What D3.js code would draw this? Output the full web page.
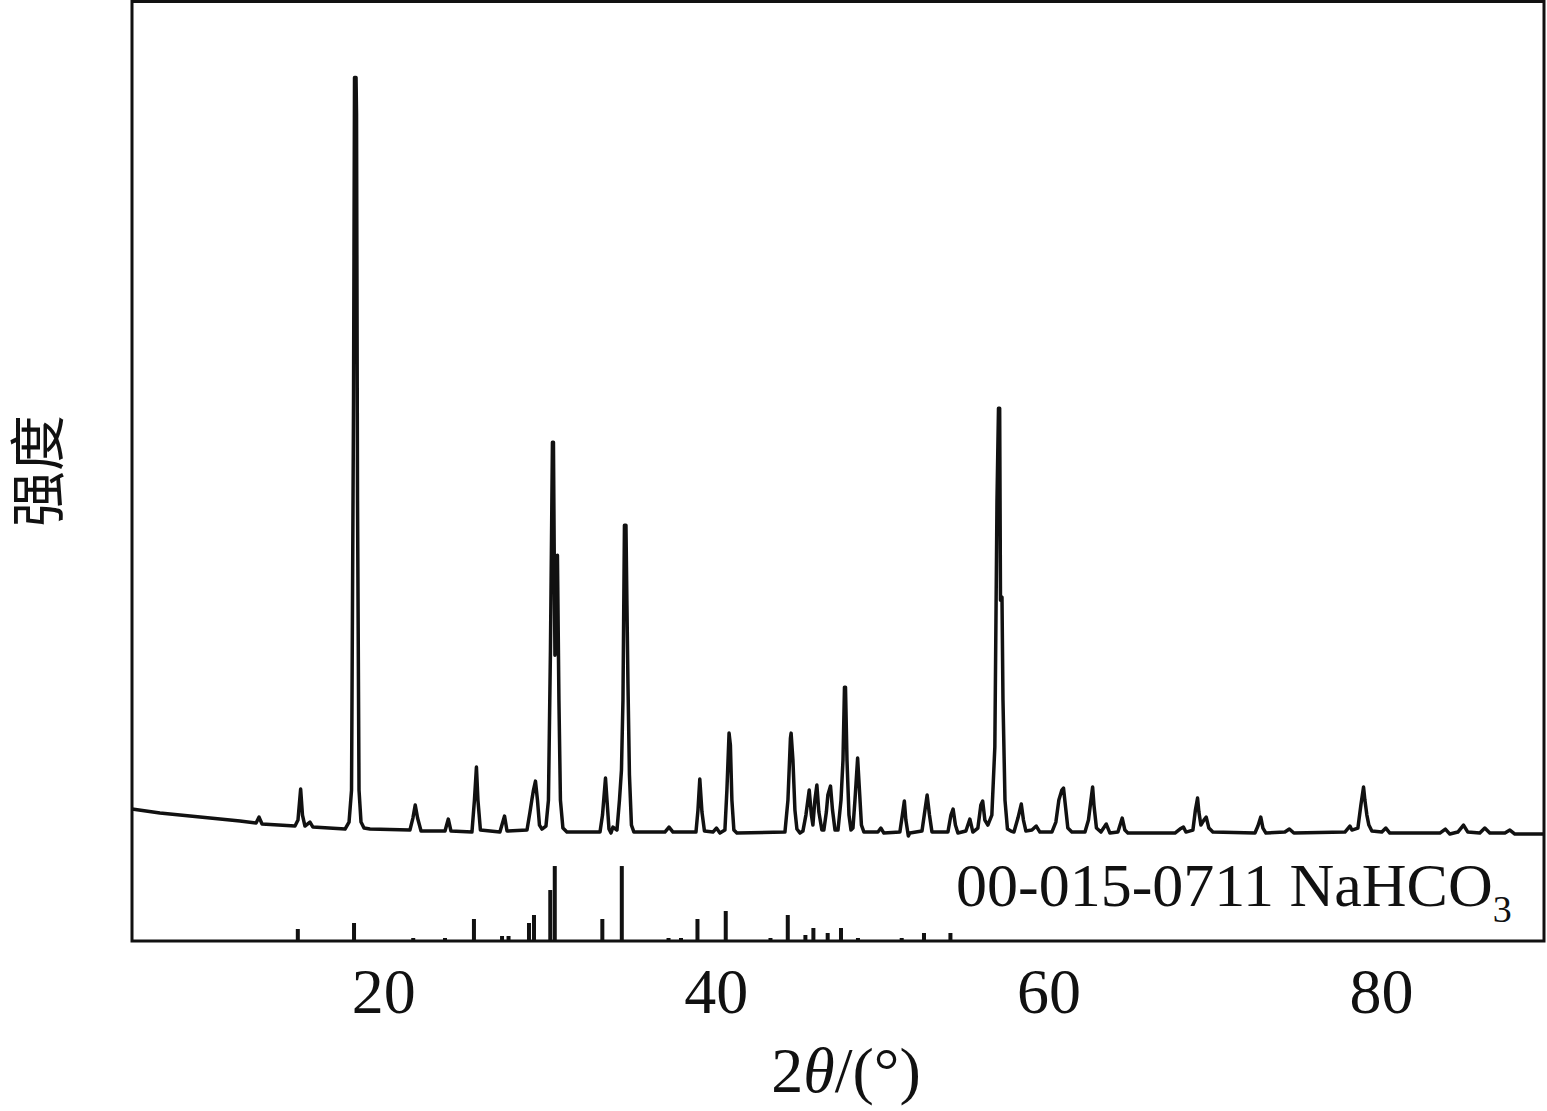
<!DOCTYPE html>
<html>
<head>
<meta charset="utf-8">
<script src="https://cdn.jsdelivr.net/npm/d3@7"></script>
<style>
  body { margin: 0; background: #fff; }
  svg { display: block; }
</style>
</head>
<body>
<div id="chartContainer"></div>
<script>
// measured XRD pattern, [2theta (deg), intensity (a.u.)]
var xrdPattern = [
    [4.90, 132], [6.58, 128], [8.99, 124], [11.39, 120], [12.36, 118], [12.54, 124], [12.72, 117],
    [14.70, 115], [14.88, 121], [15.04, 152], [15.15, 126], [15.30, 115], [15.60, 119], [15.78, 114],
    [17.71, 112], [17.95, 119], [18.10, 151], [18.22, 541], [18.28, 864], [18.37, 864], [18.40, 828],
    [18.46, 441], [18.55, 151], [18.67, 119], [18.85, 113], [19.21, 112],
    [21.61, 111], [21.79, 123], [21.93, 136], [22.07, 123], [22.28, 110],
    [23.72, 110], [23.92, 122], [24.08, 110],
    [25.34, 109], [25.49, 141], [25.61, 174], [25.70, 141], [25.85, 111],
    [27.02, 109], [27.30, 125], [27.45, 110],
    [28.65, 111], [28.83, 129], [28.95, 142], [29.04, 151], [29.16, 160], [29.28, 141], [29.40, 116],
    [29.55, 112], [29.79, 115], [29.94, 141], [30.06, 291], [30.18, 499], [30.24, 499], [30.33, 286],
    [30.42, 341], [30.48, 386], [30.57, 241], [30.66, 141], [30.81, 113], [31.05, 109],
    [33.04, 109], [33.19, 126], [33.37, 163], [33.46, 141], [33.58, 112], [33.70, 108], [33.82, 114],
    [34.06, 111], [34.21, 141], [34.33, 171], [34.42, 241], [34.51, 416], [34.60, 416], [34.66, 336],
    [34.72, 258], [34.81, 166], [34.93, 116], [35.08, 109],
    [36.94, 109], [37.19, 114], [37.43, 109],
    [38.81, 109], [38.93, 131], [39.04, 162], [39.17, 129], [39.32, 110],
    [39.83, 109], [40.04, 113], [40.25, 108], [40.55, 111], [40.67, 151], [40.80, 208], [40.88, 196],
    [40.97, 141], [41.09, 111], [41.27, 108],
    [44.16, 109], [44.34, 141], [44.49, 203], [44.53, 208], [44.64, 181], [44.76, 131], [44.88, 112],
    [45.06, 108], [45.24, 110], [45.42, 126], [45.62, 151], [45.75, 126], [45.84, 116], [45.96, 141],
    [46.08, 156], [46.20, 129], [46.38, 111], [46.50, 111], [46.65, 129], [46.74, 146], [46.90, 155],
    [47.02, 131], [47.17, 111], [47.35, 111], [47.53, 141], [47.65, 181], [47.74, 254], [47.80, 254],
    [47.89, 181], [48.01, 126], [48.13, 111], [48.25, 113], [48.37, 141], [48.53, 183], [48.64, 151],
    [48.76, 116], [48.91, 109],
    [49.75, 109], [49.93, 113], [50.11, 108],
    [51.07, 109], [51.22, 126], [51.34, 140], [51.43, 121], [51.58, 105], [51.67, 108],
    [52.40, 110], [52.58, 131], [52.71, 146], [52.85, 126], [53.00, 109],
    [53.96, 109], [54.14, 126], [54.27, 132], [54.41, 116], [54.56, 108],
    [55.04, 110], [55.28, 122], [55.46, 109], [55.76, 113], [55.94, 136], [56.05, 140], [56.18, 121],
    [56.36, 116], [56.60, 126], [56.78, 194], [56.91, 441], [57.00, 533], [57.07, 533], [57.12, 341],
    [57.21, 344], [57.27, 241], [57.39, 141], [57.54, 112], [57.75, 110], [57.93, 109],
    [58.17, 123], [58.37, 137], [58.50, 121], [58.65, 110], [59.01, 111], [59.27, 115], [59.49, 109],
    [60.21, 109], [60.45, 119], [60.63, 141], [60.81, 151], [60.91, 153], [61.02, 136], [61.17, 113],
    [61.41, 109],
    [62.20, 109], [62.41, 121], [62.56, 141], [62.66, 154], [62.74, 136], [62.89, 113], [63.16, 109],
    [63.48, 117], [63.70, 108], [64.18, 109], [64.44, 123], [64.60, 111], [64.78, 108],
    [67.61, 108], [67.91, 112], [68.12, 114], [68.27, 109],
    [68.69, 111], [68.84, 131], [68.97, 143], [69.05, 129], [69.17, 116], [69.35, 121], [69.49, 124],
    [69.65, 113], [69.89, 109],
    [72.42, 108], [72.60, 115], [72.77, 124], [72.90, 113], [73.08, 108],
    [74.22, 109], [74.49, 112], [74.76, 108],
    [77.83, 109], [78.13, 115], [78.25, 111], [78.61, 113], [78.79, 136], [78.95, 154], [79.03, 141],
    [79.15, 126], [79.27, 116], [79.45, 110],
    [80.05, 109], [80.29, 113], [80.53, 108],
    [83.54, 108], [83.87, 112], [84.14, 107], [84.62, 109], [84.96, 116], [85.22, 109],
    [85.94, 108], [86.24, 113], [86.54, 108], [87.45, 108], [87.75, 111], [88.05, 107], [89.79, 107]
];

// PDF card 00-015-0711 reference lines
var refAngle = [14.87, 18.25, 21.81, 23.72, 25.46, 27.15, 27.54, 28.77, 29.07, 30.05, 30.32,
    33.18, 34.35, 37.16, 37.91, 38.90, 40.60, 43.29, 44.33, 45.39, 45.87, 46.73, 47.53,
    48.55, 51.18, 52.52, 54.11];
var refIntensity = [12, 18, 3, 3, 22, 5, 5, 18, 26, 51, 75,
    22, 75, 3, 3, 22, 30, 3, 26, 6, 13, 8, 13,
    3, 3, 8, 8];

var xTicks = [20, 40, 60, 80];
var xLabel = "2θ/(°)";
var yLabel = "强度";
var cardLabel = "00-015-0711 NaHCO";

var width = 1547,
    height = 1111;
var plot = { left: 132, right: 1544, top: 1.5, bottom: 941 };
var serif = "'Liberation Serif', 'Times New Roman', serif";

var x = d3.scaleLinear()
    .domain([4.9, 89.8])
    .range([plot.left, plot.right]);
var y = d3.scaleLinear()
    .domain([0, 940])
    .range([plot.bottom, plot.top]);

var svg = d3.select("#chartContainer").append("svg")
    .attr("width", width)
    .attr("height", height);

// reference sticks
svg.append("g").selectAll("rect")
    .data(refAngle)
    .enter().append("rect")
    .attr("x", function(d) { return x(d) - 2; })
    .attr("y", function(d, i) { return y(refIntensity[i]); })
    .attr("width", 4)
    .attr("height", function(d, i) { return y(0) - y(refIntensity[i]); })
    .style("fill", "#111");

// measured pattern
var line = d3.line()
    .x(function(d) { return x(d[0]); })
    .y(function(d) { return y(d[1]); });

svg.append("path")
    .datum(xrdPattern)
    .attr("d", line)
    .style("fill", "none")
    .style("stroke", "#111")
    .style("stroke-width", 3.5)
    .style("stroke-linejoin", "round");

// frame
svg.append("rect")
    .attr("x", plot.left)
    .attr("y", plot.top)
    .attr("width", plot.right - plot.left)
    .attr("height", plot.bottom - plot.top)
    .style("fill", "none")
    .style("stroke", "#111")
    .style("stroke-width", 3);

// x axis, labels only
var xAxis = svg.append("g")
    .attr("transform", "translate(0," + plot.bottom + ")")
    .call(d3.axisBottom(x).tickValues(xTicks).tickSize(0).tickFormat(d3.format("d")));
xAxis.select(".domain").remove();
xAxis.selectAll("text")
    .attr("y", 72)
    .attr("dy", null)
    .style("font-family", serif)
    .style("font-size", "64px")
    .style("fill", "#111");

// axis titles
var xt = svg.append("text")
    .attr("x", 846)
    .attr("y", 1092)
    .attr("text-anchor", "middle")
    .style("font-family", serif)
    .style("font-size", "64px")
    .style("fill", "#111");
xt.append("tspan").text(xLabel.charAt(0));
xt.append("tspan").style("font-style", "italic").text(xLabel.charAt(1));
xt.append("tspan").text(xLabel.slice(2));

svg.append("text")
    .attr("transform", "translate(58,471) rotate(-90)")
    .attr("text-anchor", "middle")
    .style("font-family", "'Noto Sans CJK SC', sans-serif")
    .style("font-size", "56px")
    .style("fill", "#111")
    .text(yLabel);

// card label
var card = svg.append("text")
    .attr("x", 956)
    .attr("y", 906)
    .style("font-family", serif)
    .style("font-size", "62px")
    .style("fill", "#111");
card.append("tspan").text(cardLabel);
card.append("tspan")
    .attr("dy", 16)
    .style("font-size", "38px")
    .text("3");
</script>
</body>
</html>
